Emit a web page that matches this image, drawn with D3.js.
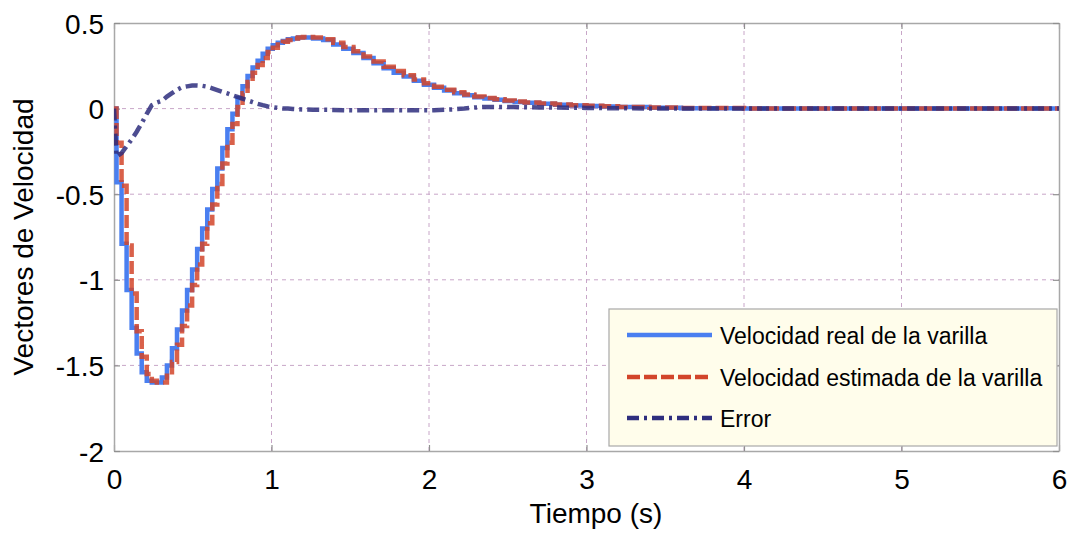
<!DOCTYPE html>
<html>
<head>
<meta charset="utf-8">
<script src="https://cdn.jsdelivr.net/npm/d3@7/dist/d3.min.js"></script>
<style>
html,body{margin:0;padding:0;background:#fff;}
svg{display:block;font-family:"Liberation Sans",Arial,Helvetica,sans-serif;}
</style>
</head>
<body>
<svg id="chart" width="1073" height="535"></svg>
<script>
// ---- data ----
const time = [0, 0.016, 0.048, 0.080, 0.112, 0.144, 0.176, 0.208, 0.240, 0.272, 0.304, 0.336, 0.368, 0.400, 0.432, 0.464, 0.496, 0.528, 0.560, 0.592, 0.624, 0.656, 0.688, 0.720, 0.752, 0.784, 0.816, 0.848, 0.880, 0.912, 0.944, 0.976, 1.008, 1.040, 1.072, 1.104, 1.136, 1.168, 1.200,
  1.264, 1.328, 1.392, 1.456, 1.520, 1.584, 1.648, 1.712, 1.776, 1.840, 1.904, 1.968, 2.032, 2.096, 2.160, 2.224, 2.288, 2.352, 2.416, 2.480, 2.544, 2.608,
  2.7, 2.8, 2.9, 3.0, 3.1, 3.2, 3.4, 3.6, 4.0, 5.0, 6.0];

const velReal = [0, -0.43, -0.79, -1.06, -1.28, -1.43, -1.54, -1.59, -1.60, -1.60, -1.57, -1.50, -1.40, -1.29, -1.18, -1.06, -0.94, -0.82, -0.70, -0.59, -0.47, -0.35, -0.23, -0.12, -0.03, 0.06, 0.13, 0.19, 0.24, 0.28, 0.32, 0.35, 0.37, 0.385, 0.395, 0.405, 0.41, 0.415, 0.415,
  0.41, 0.40, 0.375, 0.35, 0.325, 0.295, 0.265, 0.235, 0.21, 0.187, 0.162, 0.14, 0.122, 0.105, 0.09, 0.078, 0.067, 0.059, 0.051, 0.045, 0.039, 0.034,
  0.028, 0.022, 0.018, 0.015, 0.012, 0.009, 0.005, 0.002, 0, 0, 0];

const velEstimada = [0, -0.20, -0.45, -0.80, -1.08, -1.30, -1.45, -1.55, -1.59, -1.60, -1.60, -1.56, -1.48, -1.38, -1.27, -1.15, -1.03, -0.91, -0.79, -0.67, -0.56, -0.44, -0.32, -0.20, -0.09, 0.01, 0.09, 0.155, 0.21, 0.255, 0.295, 0.33, 0.355, 0.375, 0.39, 0.40, 0.41, 0.415, 0.418,
  0.415, 0.405, 0.385, 0.36, 0.335, 0.305, 0.275, 0.245, 0.22, 0.195, 0.17, 0.148, 0.128, 0.11, 0.095, 0.082, 0.071, 0.062, 0.054, 0.047, 0.041, 0.036,
  0.03, 0.024, 0.019, 0.016, 0.013, 0.01, 0.006, 0.003, 0, 0, 0];

const errorVel = [0, -0.28, -0.26, -0.22, -0.18, -0.135, -0.085, -0.03, 0.02, 0.035, 0.045, 0.07, 0.09, 0.11, 0.125, 0.13, 0.135, 0.135, 0.133, 0.128, 0.118, 0.108, 0.098, 0.089, 0.078, 0.068, 0.058, 0.048, 0.038, 0.028, 0.02, 0.013, 0.008, 0.004, 0.001, 0, -0.002, -0.004, -0.005,
  -0.006, -0.007, -0.008, -0.009, -0.01, -0.01, -0.01, -0.01, -0.01, -0.01, -0.01, -0.01, -0.009, -0.007, -0.004, 0, 0.006, 0.01, 0.01, 0.01, 0.009, 0.008,
  0.007, 0.006, 0.005, 0.004, 0.003, 0.002, 0.001, 0, 0, 0, 0];

const xTicks = [0, 1, 2, 3, 4, 5, 6];
const xTickLabels = ["0", "1", "2", "3", "4", "5", "6"];
const yTicks = [-2, -1.5, -1, -0.5, 0, 0.5];
const yTickLabels = ["-2", "-1.5", "-1", "-0.5", "0", "0.5"];
const seriesNames = ["Velocidad real de la varilla", "Velocidad estimada de la varilla", "Error"];
const xLabel = "Tiempo (s)";
const yLabel = "Vectores de Velocidad";

// ---- layout ----
const L = 114, R = 1059, T = 23, B = 451;
const svg = d3.select("#chart");
const x = d3.scaleLinear().domain([0, 6]).range([L, R]);
const y = d3.scaleLinear().domain([-2, 0.5]).range([B, T]);

const colors = ["#4a7ff0", "#d2452a", "#2e2e7e"];
const dashes = [null, "13,4", "12,5,3,5"];

// grid
const grid = svg.append("g");
grid.selectAll("line.gx").data(xTicks.slice(1, -1)).enter().append("line")
  .attr("x1", d => x(d)).attr("x2", d => x(d)).attr("y1", T).attr("y2", B)
  .attr("stroke", "#c8a6c8").attr("stroke-width", 1).attr("stroke-dasharray", "4,4");
grid.selectAll("line.gy").data(yTicks.slice(1, -1)).enter().append("line")
  .attr("y1", d => y(d)).attr("y2", d => y(d)).attr("x1", L).attr("x2", R)
  .attr("stroke", "#c8a6c8").attr("stroke-width", 1).attr("stroke-dasharray", "4,4");

// axes with inside ticks
const tickLen = 6;
const axB = svg.append("g").attr("transform", `translate(0,${B})`)
  .call(d3.axisBottom(x).tickValues(xTicks).tickSizeInner(-tickLen).tickSizeOuter(0).tickFormat((d, i) => xTickLabels[i]));
const axT = svg.append("g").attr("transform", `translate(0,${T})`)
  .call(d3.axisTop(x).tickValues(xTicks).tickSizeInner(-tickLen).tickSizeOuter(0).tickFormat(""));
const axL = svg.append("g").attr("transform", `translate(${L},0)`)
  .call(d3.axisLeft(y).tickValues(yTicks).tickSizeInner(-tickLen).tickSizeOuter(0).tickFormat((d, i) => yTickLabels[i]));
const axR = svg.append("g").attr("transform", `translate(${R},0)`)
  .call(d3.axisRight(y).tickValues(yTicks).tickSizeInner(-tickLen).tickSizeOuter(0).tickFormat(""));

[axB, axT, axL, axR].forEach(a => {
  a.select(".domain").attr("stroke", "#a8a8a8").attr("stroke-width", 1.5);
  a.selectAll(".tick line").attr("stroke", "#909090").attr("stroke-width", 1.2);
});
axB.selectAll(".tick text").attr("font-size", 28).attr("fill", "#000")
  .attr("font-family", "Liberation Sans, Arial, sans-serif").attr("y", 0).attr("dy", 0)
  .attr("transform", "translate(0,38)");
axL.selectAll(".tick text").attr("font-size", 28).attr("fill", "#000")
  .attr("font-family", "Liberation Sans, Arial, sans-serif").attr("x", -10).attr("dy", "0.36em");

// series
const clip = svg.append("clipPath").attr("id", "plotclip").append("rect")
  .attr("x", L).attr("y", T - 3).attr("width", R - L).attr("height", B - T + 6);
const plot = svg.append("g").attr("clip-path", "url(#plotclip)");

const series = [velReal, velEstimada, errorVel];
const curves = [d3.curveStepAfter, d3.curveStepAfter, d3.curveLinear];
const opac = [1, 0.85, 0.85];
series.forEach((vals, s) => {
  const line = d3.line().x((d, i) => x(time[i])).y(d => y(d)).curve(curves[s]);
  plot.append("path").datum(vals)
    .attr("d", line)
    .attr("fill", "none")
    .attr("stroke", colors[s])
    .attr("stroke-opacity", opac[s])
    .attr("stroke-width", 4.5)
    .attr("stroke-linejoin", "miter")
    .attr("stroke-dasharray", dashes[s]);
});

// legend
const lg = svg.append("g");
lg.append("rect").attr("x", 609).attr("y", 309).attr("width", 448).attr("height", 137)
  .attr("fill", "#fffdeb").attr("stroke", "#a8a8a8").attr("stroke-width", 1.2);
const rowY = [335, 377, 418];
seriesNames.forEach((name, i) => {
  lg.append("line").attr("x1", 627).attr("x2", 712).attr("y1", rowY[i]).attr("y2", rowY[i])
    .attr("stroke", colors[i]).attr("stroke-width", 4.5).attr("stroke-dasharray", dashes[i]);
  lg.append("text").attr("x", 720).attr("y", rowY[i] + 9)
    .attr("font-size", 23).attr("fill", "#000").text(name);
});

// axis titles
svg.append("text").attr("x", 596).attr("y", 523).attr("text-anchor", "middle")
  .attr("font-size", 28).attr("fill", "#000").text(xLabel);
svg.append("text").attr("transform", "translate(33,237) rotate(-90)").attr("text-anchor", "middle")
  .attr("font-size", 28).attr("fill", "#000").text(yLabel);
</script>
</body>
</html>
